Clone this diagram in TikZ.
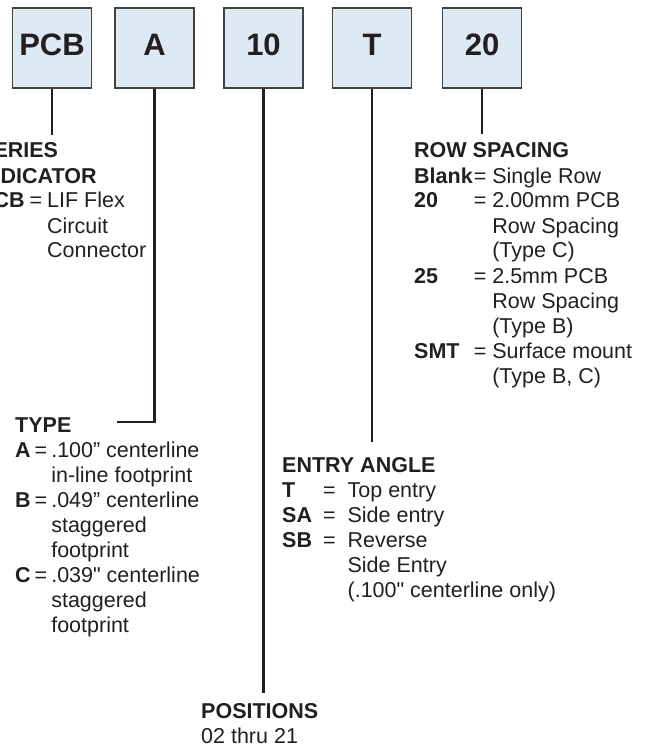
\documentclass[tikz,border=0pt]{standalone}
\usepackage{fontspec}
\setmainfont{Liberation Sans}[Ligatures=TeXOff]
\definecolor{boxfill}{RGB}{221,234,243}
\definecolor{ink}{RGB}{35,31,32}
\tikzset{
  keybox/.style={draw=ink!85,line width=1.3pt,fill=boxfill,minimum width=79pt,minimum height=80pt,
    inner sep=0pt,text height=22pt,text depth=6pt,text=ink,font=\fontsize{31}{31}\selectfont\bfseries},
  lead/.style={draw=ink,line width=2.2pt},
  legend/.style={anchor=base west,inner sep=0pt,text=ink,font=\fontsize{21.5}{25}\selectfont},
}

\begin{document}
\begin{tikzpicture}[x=1pt,y=-1pt,line join=miter]
  \clip (0,0) rectangle (650,746);
  % 代码方框
  \node[keybox] (pcb) at (52,48) {PCB};
  \node[keybox] (typ) at (154.5,48) {A};
  \node[keybox] (pos) at (263.5,48) {10};
  \node[keybox] (ang) at (372,48) {T};
  \node[keybox] (row) at (482,48) {20};
  % 引线端点
  \coordinate (pcbend) at (52,135);
  \coordinate (typend) at (117,422);
  \coordinate (posend) at (263.5,693);
  \coordinate (angend) at (372,442);
  \coordinate (rowend) at (482,134);
  \draw[lead] (pcb.south) -- (pcbend);
  \draw[lead] (typ.south) |- (typend);
  \draw[lead] (pos.south) -- (posend);
  \draw[lead] (ang.south) -- (angend);
  \draw[lead] (row.south) -- (rowend);
  % 说明文字
  \node[legend] (pcblbl) at (-21,158) {\begin{tabular}[t]{@{}l@{\hspace{5pt}}c@{\hspace{5pt}}l@{}}
    \multicolumn{3}{@{}l@{}}{\textbf{SERIES}}\\
    \multicolumn{3}{@{}l@{}}{\textbf{INDICATOR}}\\
    \textbf{PCB} & = & LIF Flex\\
    & & Circuit\\
    & & Connector
  \end{tabular}};
  \node[legend] (rowlbl) at (414,158) {\begin{tabular}[t]{@{}l@{\hspace{1pt}}c@{\hspace{6pt}}l@{}}
    \multicolumn{3}{@{}l@{}}{\textbf{ROW SPACING}}\\
    \textbf{Blank} & = & Single Row\\
    \textbf{20} & = & 2.00mm PCB\\
    & & Row Spacing\\
    & & (Type C)\\
    \textbf{25} & = & 2.5mm PCB\\
    & & Row Spacing\\
    & & (Type B)\\
    \textbf{SMT} & = & Surface mount\\
    & & (Type B, C)
  \end{tabular}};
  \node[legend] (typlbl) at (15,432) {\begin{tabular}[t]{@{}l@{\hspace{4pt}}c@{\hspace{4pt}}l@{}}
    \multicolumn{3}{@{}l@{}}{\textbf{TYPE}}\\
    \textbf{A} & = & .100” centerline\\
    & & in-line footprint\\
    \textbf{B} & = & .049” centerline\\
    & & staggered\\
    & & footprint\\
    \textbf{C} & = & .039" centerline\\
    & & staggered\\
    & & footprint
  \end{tabular}};
  \node[legend] (anglbl) at (282,472) {\begin{tabular}[t]{@{}l@{\hspace{11pt}}c@{\hspace{12pt}}l@{}}
    \multicolumn{3}{@{}l@{}}{\textbf{ENTRY ANGLE}}\\
    \textbf{T} & = & Top entry\\
    \textbf{SA} & = & Side entry\\
    \textbf{SB} & = & Reverse\\
    & & Side Entry\\
    & & (.100" centerline only)
  \end{tabular}};
  \node[legend] (poslbl) at (201,718) {\begin{tabular}[t]{@{}l@{}}
    \textbf{POSITIONS}\\
    02 thru 21
  \end{tabular}};
\end{tikzpicture}
\end{document}
